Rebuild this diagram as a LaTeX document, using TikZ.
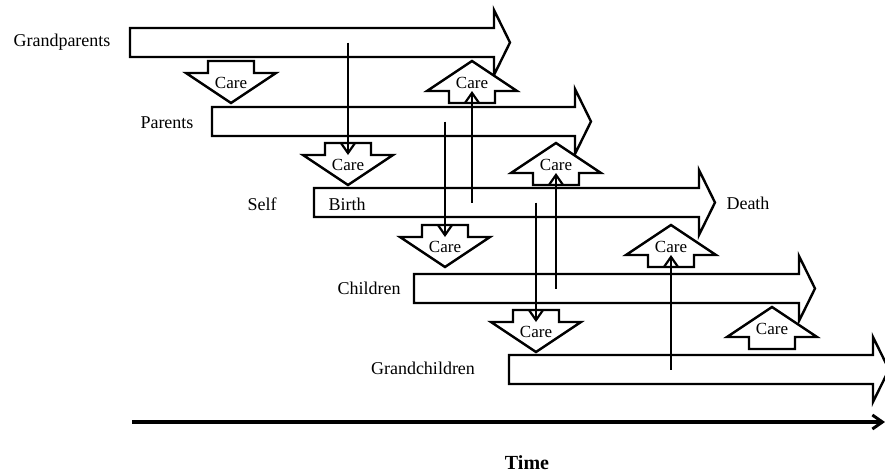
\documentclass[tikz,border=0pt]{standalone}
\usepackage{fontspec}
\setmainfont{Liberation Serif}
\usetikzlibrary{arrows.meta}

\tikzset{
  life/.style={draw, line width=1.2pt, fill=white},
  care/.style={draw, line width=1.2pt, fill=white},
  caretext/.style={font=\fontsize{8.5}{10}\selectfont, inner sep=0pt},
  who/.style={font=\fontsize{9}{11}\selectfont, inner sep=0pt},
  link/.style={line width=1.1pt, -{Straight Barb[length=5pt,width=7pt,line width=1.1pt]}},
  timeline/.style={line width=2.2pt, -{Straight Barb[length=5pt,width=7pt,line width=1.5pt]}},
}

% big arrow of one generation: name, left, top, neck
\newcommand{\lifearrow}[4]{%
  \draw[life] (#2,#3) -- (#4,#3) -- (#4,#3-18) -- (#4+16,#3+14.5) -- (#4,#3+47)
    -- (#4,#3+29) -- (#2,#3+29) -- cycle;
  \coordinate (#1) at (#2,#3+14.5);
}
% care arrows: name, centre x, top
\newcommand{\caredown}[3]{%
  \draw[care] (#2-23,#3) -- (#2+23,#3) -- (#2+23,#3+12) -- (#2+45,#3+12) -- (#2,#3+42)
    -- (#2-45,#3+12) -- (#2-23,#3+12) -- cycle;
  \node[caretext] (#1) at (#2,#3+22) {Care};
  \coordinate (#1b) at (#2,#3+12);
}
\newcommand{\careup}[3]{%
  \draw[care] (#2,#3) -- (#2+45,#3+30) -- (#2+23,#3+30) -- (#2+23,#3+42) -- (#2-23,#3+42)
    -- (#2-23,#3+30) -- (#2-45,#3+30) -- cycle;
  \node[caretext] (#1) at (#2,#3+22) {Care};
  \coordinate (#1b) at (#2,#3+30);
}

\begin{document}
\begin{tikzpicture}[x=0.5pt,y=-0.5pt]
  \useasboundingbox (0,0) rectangle (885,472);

  % generations
  \lifearrow{gp}{130}{28}{494}
  \lifearrow{pa}{212}{107}{575}
  \lifearrow{se}{314}{188}{699}
  \lifearrow{ch}{414}{274}{799}
  \lifearrow{gc}{509}{355}{873}

  \node[who] (gplabel) at (62,42) {Grandparents};
  \node[who] (palabel) at (167,123) {Parents};
  \node[who] (selabel) at (262,204) {Self};
  \node[who] (birth) at (347,204) {Birth};
  \node[who] (death) at (748,203) {Death};
  \node[who] (chlabel) at (369,288) {Children};
  \node[who] (gclabel) at (423,368) {Grandchildren};

  % care given down and up
  \caredown{cd1}{231}{61}
  \caredown{cd2}{348}{143}
  \caredown{cd3}{445}{225}
  \caredown{cd4}{536}{310}
  \careup{cu1}{472}{61}
  \careup{cu2}{556}{143}
  \careup{cu3}{671}{225}
  \careup{cu4}{772}{307}

  \draw[link] (cd2b |- gp) -- (cd2b);
  \draw[link] (cd3b |- pa) -- (cd3b);
  \draw[link] (cd4b |- se) -- (cd4b);
  \draw[link] (cu1b |- se) -- (cu1b);
  \draw[link] (cu2b |- ch) -- (cu2b);
  \draw[link] (cu3b |- gc) -- (cu3b);

  % time axis
  \coordinate (t0) at (132,422);
  \coordinate (t1) at (885,422);
  \draw[timeline] (t0) -- (t1);
  \node[font=\fontsize{10}{12}\selectfont\bfseries, inner sep=0pt] (time) at (527,463) {Time};
\end{tikzpicture}
\end{document}
